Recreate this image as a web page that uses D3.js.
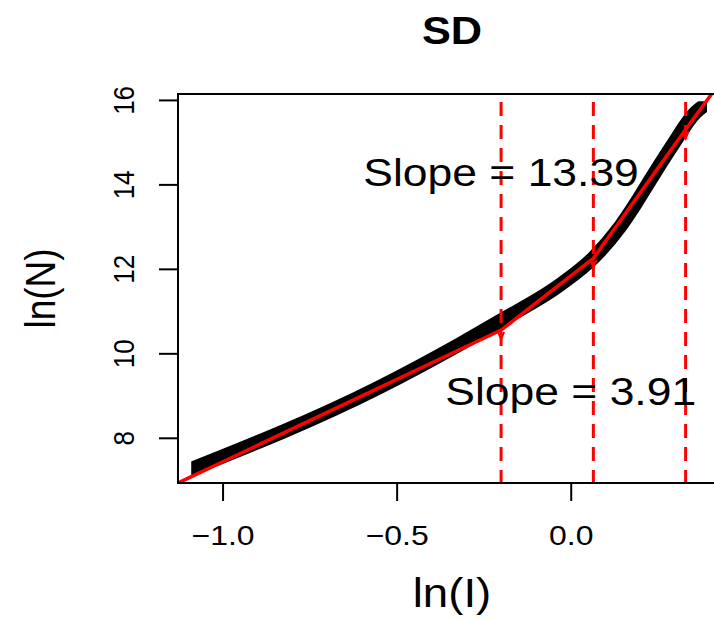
<!DOCTYPE html>
<html>
<head>
<meta charset="utf-8">
<script src="https://cdn.jsdelivr.net/npm/d3@7"></script>
<style>
  body { margin: 0; background: #fff; }
  text { font-family: "Liberation Sans", Arial, sans-serif; }
</style>
</head>
<body>
<script>
'use strict';

// black band: ln(N) against ln(I)
const lnI = [-1.09, -0.554, -0.318, -0.2, -0.031, 0.065, 0.142, 0.187, 0.229, 0.29, 0.357, 0.38];
const lnN = [7.26, 9.18, 10.22, 10.78, 11.62, 12.26, 13.0, 13.55, 14.11, 14.9, 15.69, 15.85];

// red segmented fit
const fitI = [-1.128, -0.2, 0.065, 0.33, 0.41];
const fitN = [6.93, 10.55, 12.25, 15.3, 16.2];

// breakpoints (dashed lines)
const breaks = [-0.2, 0.065, 0.33];

// slope labels and where they sit in data units
const slopeText = ["Slope = 13.39", "Slope = 3.91"];
const slopeI = [-0.2, 0];
const slopeN = [14.3, 9.1];

// ticks
const xTicks = [-1.0, -0.5, 0.0];
const yTicks = [8, 10, 12, 14, 16];

(function() {

  let svgContainer = "";

  const plot = { left: 178, right: 726, top: 94, bottom: 483 };
  const stretch = 1.14; // the original text is a bit wide

  window.onload = function() {
    svgContainer = d3.select('body')
      .append('svg')
      .attr('width', 714)
      .attr('height', 620);

    let map = drawAxes();
    plotData(map);
    makeLabels(map);
  }

  // scales, ticks and tick labels
  function drawAxes() {
    let xScale = d3.scaleLinear()
      .domain([-1.128, 0.446])
      .range([plot.left, plot.right]);

    let yScale = d3.scaleLinear()
      .domain([6.93, 16.14])
      .range([plot.bottom, plot.top]);

    let xAxis = d3.axisBottom(xScale)
      .tickValues(xTicks)
      .tickFormat(d3.format('.1f'))
      .tickSize(18)
      .tickSizeOuter(0)
      .tickPadding(24);

    let gx = svgContainer.append('g')
      .attr('transform', 'translate(0,' + plot.bottom + ')')
      .call(xAxis);
    gx.select('.domain').remove();
    gx.selectAll('line').attr('stroke', '#000').attr('stroke-width', 2);
    gx.selectAll('text')
      .attr('transform', 'scale(' + stretch + ',1)')
      .style('font-size', '28px')
      .attr('fill', '#000');

    let yAxis = d3.axisLeft(yScale)
      .tickValues(yTicks)
      .tickSize(19)
      .tickSizeOuter(0);

    let gy = svgContainer.append('g')
      .attr('transform', 'translate(' + plot.left + ',0)')
      .call(yAxis);
    gy.select('.domain').remove();
    gy.selectAll('line').attr('stroke', '#000').attr('stroke-width', 2);
    gy.selectAll('text')
      .attr('x', 0)
      .attr('dy', '0.36em')
      .attr('text-anchor', 'middle')
      .attr('transform', 'translate(-55,0)scale(' + stretch + ',1)rotate(-90)')
      .style('font-size', '26px')
      .attr('fill', '#000');

    // clip for everything inside the box
    svgContainer.append('clipPath')
      .attr('id', 'plotClip')
      .append('rect')
      .attr('x', plot.left)
      .attr('y', plot.top)
      .attr('width', plot.right - plot.left)
      .attr('height', plot.bottom - plot.top);

    return { x: xScale, y: yScale };
  }

  // band, fit line, breakpoints
  function plotData(map) {
    let xScale = map.x;
    let yScale = map.y;
    let inner = svgContainer.append('g').attr('clip-path', 'url(#plotClip)');

    // cut the band ends square like the original
    let x0 = xScale(d3.min(lnI));
    let x1 = xScale(d3.max(lnI)) + 4;
    let y1 = yScale(d3.max(lnN)) - 5;
    svgContainer.append('clipPath')
      .attr('id', 'bandClip')
      .append('rect')
      .attr('x', x0)
      .attr('y', y1)
      .attr('width', x1 - x0)
      .attr('height', plot.bottom - y1);

    let band = d3.line()
      .x(function(d, i) { return xScale(lnI[i]); })
      .y(function(d, i) { return yScale(lnN[i]); })
      .curve(d3.curveMonotoneX);

    inner.append('g').attr('clip-path', 'url(#bandClip)')
      .append('path')
      .attr('d', band(lnI))
      .attr('fill', 'none')
      .attr('stroke', '#000')
      .attr('stroke-width', 14)
      .attr('stroke-linecap', 'square')
      .attr('stroke-linejoin', 'round');

    // dashed verticals at the breakpoints
    inner.selectAll('.brk')
      .data(breaks)
      .enter()
      .append('line')
        .attr('class', 'brk')
        .attr('x1', function(d) { return xScale(d); })
        .attr('x2', function(d) { return xScale(d); })
        .attr('y1', plot.top + 8)
        .attr('y2', plot.bottom)
        .attr('stroke', '#FF0000')
        .attr('stroke-width', 3)
        .attr('stroke-dasharray', '14,9');

    let fit = d3.line()
      .x(function(d, i) { return xScale(fitI[i]); })
      .y(function(d, i) { return yScale(fitN[i]); });

    inner.append('path')
      .attr('d', fit(fitI))
      .attr('fill', 'none')
      .attr('stroke', '#FF0000')
      .attr('stroke-width', 3.5);

    // small downward marks where the segments join
    inner.selectAll('.joint')
      .data(breaks)
      .enter()
      .append('path')
        .attr('class', 'joint')
        .attr('d', function(d) {
          let px = xScale(d);
          let py = yScale(fitN[fitI.indexOf(d)]);
          return 'M' + (px - 3) + ',' + (py + 2) + 'L' + px + ',' + (py + 9) +
                 'L' + (px + 3) + ',' + (py + 2) + 'M' + px + ',' + py + 'V' + (py + 9);
        })
        .attr('fill', 'none')
        .attr('stroke', '#FF0000')
        .attr('stroke-width', 2);

    // box
    svgContainer.append('rect')
      .attr('x', plot.left)
      .attr('y', plot.top)
      .attr('width', plot.right - plot.left)
      .attr('height', plot.bottom - plot.top)
      .attr('fill', 'none')
      .attr('stroke', '#000')
      .attr('stroke-width', 2);
  }

  // title, axis titles, slope labels
  function makeLabels(map) {
    let cx = (plot.left + plot.right) / 2;
    let cy = (plot.top + plot.bottom) / 2;

    svgContainer.append('text')
      .attr('transform', 'translate(' + cx + ',44)scale(' + stretch + ',1)')
      .attr('text-anchor', 'middle')
      .style('font-size', '38px')
      .style('font-weight', 'bold')
      .text('SD');

    svgContainer.append('text')
      .attr('transform', 'translate(' + cx + ',607)scale(' + stretch + ',1)')
      .attr('text-anchor', 'middle')
      .style('font-size', '40px')
      .text('ln(I)');

    svgContainer.append('text')
      .attr('transform', 'translate(40,' + cy + ')scale(' + stretch + ',1)rotate(-90)')
      .attr('text-anchor', 'middle')
      .attr('dy', '0.36em')
      .style('font-size', '37px')
      .text('ln(N)');

    svgContainer.selectAll('.slope')
      .data(slopeText)
      .enter()
      .append('text')
        .attr('class', 'slope')
        .attr('transform', function(d, i) {
          return 'translate(' + map.x(slopeI[i]) + ',' + map.y(slopeN[i]) + ')scale(' + stretch + ',1)';
        })
        .attr('dy', '0.36em')
        .attr('text-anchor', 'middle')
        .style('font-size', '39px')
        .text(function(d) { return d; });
  }

})();
</script>
</body>
</html>
